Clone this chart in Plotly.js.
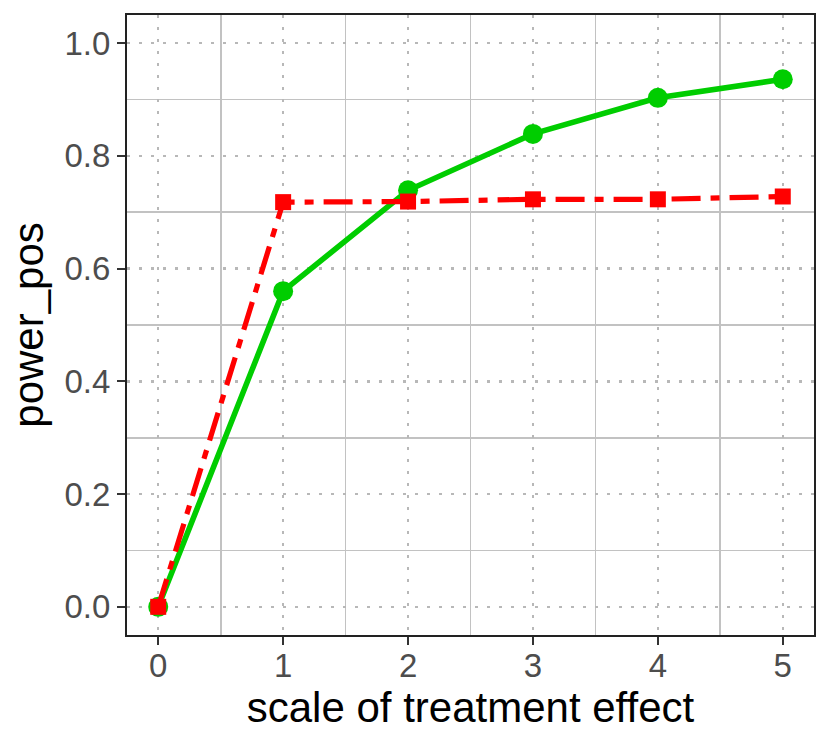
<!DOCTYPE html>
<html>
<head>
<meta charset="utf-8">
<script src="https://cdn.plot.ly/plotly-3.0.1.min.js"></script>
<style>html,body{margin:0;padding:0;background:#fff;}#plot{width:830px;height:747px;}</style>
</head>
<body>
<div id="plot"></div>
<script>
const scaleEffect = [0, 1, 2, 3, 4, 5];
const powerGreen = [0, 0.560, 0.739, 0.839, 0.903, 0.936];
const powerRed = [0, 0.718, 0.719, 0.723, 0.723, 0.728];
const xTicks = [0, 1, 2, 3, 4, 5];
const yTicks = [0, 0.2, 0.4, 0.6, 0.8, 1.0];
const yTickLabels = ['0.0', '0.2', '0.4', '0.6', '0.8', '1.0'];
const xMinor = [0.5, 1.5, 2.5, 3.5, 4.5];
const yMinor = [0.1, 0.3, 0.5, 0.7, 0.9];

const traces = [
  {
    x: scaleEffect, y: powerGreen, type: 'scatter', mode: 'lines+markers',
    line: {color: '#00CD00', width: 5.6},
    marker: {color: '#00CD00', size: 20, symbol: 'circle'},
    showlegend: false, cliponaxis: false
  },
  {
    x: scaleEffect, y: powerRed, type: 'scatter', mode: 'lines+markers',
    line: {color: '#FF0000', width: 5.2, dash: '29px,10px,9px,10px'},
    marker: {color: '#FF0000', size: 16, symbol: 'square'},
    showlegend: false, cliponaxis: false
  }
];

const fam = 'Liberation Sans, Arial, sans-serif';
const layout = {
  width: 830, height: 747,
  margin: {l: 127, r: 16, t: 15, b: 112},
  paper_bgcolor: '#fff', plot_bgcolor: '#fff',
  font: {family: fam},
  xaxis: {
    range: [-0.25, 5.25],
    tickmode: 'array', tickvals: xTicks, ticktext: xTicks.map(String),
    showgrid: true, gridcolor: '#B8B8B8', gridwidth: 2.5, griddash: '3px,9px',
    minor: {tickmode: 'array', tickvals: xMinor, showgrid: true, gridcolor: '#C2C2C2', gridwidth: 1.8, griddash: 'solid', ticks: ''},
    zeroline: false,
    showline: true, mirror: true, linecolor: '#222', linewidth: 2,
    ticks: 'outside', ticklen: 8, tickwidth: 2.2, tickcolor: '#333',
    ticklabelstandoff: -8,
    tickfont: {family: fam, size: 33, color: '#4D4D4D'},
    title: {text: 'scale of treatment effect', font: {family: fam, size: 42, color: '#000'}, standoff: 2}
  },
  yaxis: {
    range: [-0.05, 1.05],
    tickmode: 'array', tickvals: yTicks, ticktext: yTickLabels,
    showgrid: true, gridcolor: '#B8B8B8', gridwidth: 2.5, griddash: '3px,9px',
    minor: {tickmode: 'array', tickvals: yMinor, showgrid: true, gridcolor: '#C2C2C2', gridwidth: 1.8, griddash: 'solid', ticks: ''},
    zeroline: false,
    showline: true, mirror: true, linecolor: '#222', linewidth: 2,
    ticks: 'outside', ticklen: 8, tickwidth: 2.2, tickcolor: '#333',
    tickfont: {family: fam, size: 33, color: '#4D4D4D'},
    title: {text: 'power_pos', font: {family: fam, size: 42, color: '#000'}, standoff: 8}
  }
};

Plotly.newPlot('plot', traces, layout, {staticPlot: true, displayModeBar: false});
</script>
</body>
</html>
